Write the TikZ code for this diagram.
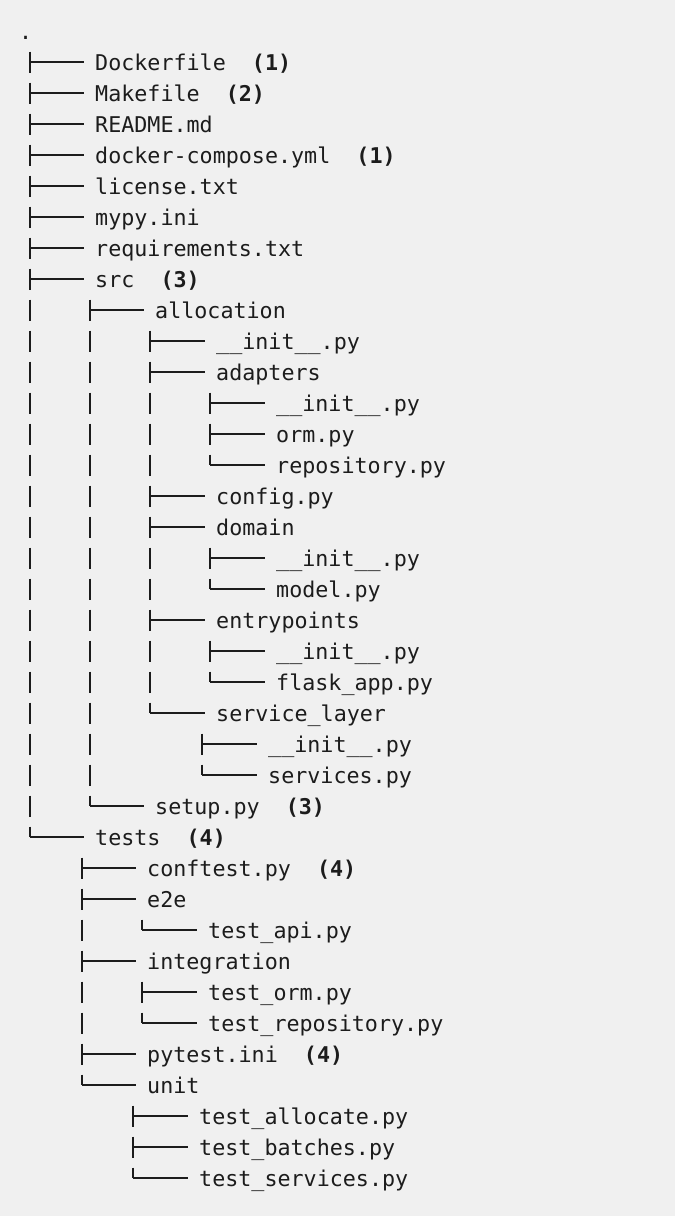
\documentclass[tikz,border=0pt]{standalone}
\usepackage{fontspec}
\setmonofont{DejaVu Sans Mono}
\definecolor{bg}{HTML}{F0F0F0}
\definecolor{ink}{HTML}{1C1C1C}
\begin{document}
\begin{tikzpicture}[x=1pt,y=-1pt,
  txt/.style={anchor=base west, inner sep=0pt, text=ink, font=\fontsize{21.7}{25}\selectfont\ttfamily},
  tree/.style={draw=ink, line width=1.4pt}]
\fill[bg] (0,0) rectangle (675,1216);
\useasboundingbox (0,0) rectangle (675,1216);
\node[txt] (root) at (19,39) {.};
% rows: index / branch x / text x / bottom of vertical (10.5 = tee, 0 = corner) / text
\foreach \i/\bx/\tx/\k/\t [evaluate=\i as \h using 62+31*\i] in {
0/30/95/10.5/{Dockerfile\ \ \textbf{(1)}},
1/30/95/10.5/{Makefile\ \ \textbf{(2)}},
2/30/95/10.5/{README.md},
3/30/95/10.5/{docker-compose.yml\ \ \textbf{(1)}},
4/30/95/10.5/{license.txt},
5/30/95/10.5/{mypy.ini},
6/30/95/10.5/{requirements.txt},
7/30/95/10.5/{src\ \ \textbf{(3)}},
8/90/155/10.5/{allocation},
9/150/216/10.5/{\_\_init\_\_.py},
10/150/216/10.5/{adapters},
11/210/276/10.5/{\_\_init\_\_.py},
12/210/276/10.5/{orm.py},
13/210/276/0/{repository.py},
14/150/216/10.5/{config.py},
15/150/216/10.5/{domain},
16/210/276/10.5/{\_\_init\_\_.py},
17/210/276/0/{model.py},
18/150/216/10.5/{entrypoints},
19/210/276/10.5/{\_\_init\_\_.py},
20/210/276/0/{flask\_app.py},
21/150/216/0/{service\_layer},
22/202/268/10.5/{\_\_init\_\_.py},
23/202/268/0/{services.py},
24/90/155/0/{setup.py\ \ \textbf{(3)}},
25/30/95/0/{tests\ \ \textbf{(4)}},
26/82/147/10.5/{conftest.py\ \ \textbf{(4)}},
27/82/147/10.5/{e2e},
28/142/208/0/{test\_api.py},
29/82/147/10.5/{integration},
30/142/208/10.5/{test\_orm.py},
31/142/208/0/{test\_repository.py},
32/82/147/10.5/{pytest.ini\ \ \textbf{(4)}},
33/82/147/0/{unit},
34/133/199/10.5/{test\_allocate.py},
35/133/199/10.5/{test\_batches.py},
36/133/199/0/{test\_services.py}
}{
  \node[txt] (n\i) at (\tx,\h+8) {\t};
  \coordinate (b\i) at (\bx,\h);
  \draw[tree] (\bx,\h-10.5) -- (\bx,\h+\k);
  \draw[tree, shorten >=11.5pt] (b\i) -- (b\i -| n\i.west);
}
% continuation bars
\foreach \x/\i in {30/8,30/9,30/10,30/11,30/12,30/13,30/14,30/15,30/16,30/17,30/18,30/19,30/20,30/21,30/22,30/23,30/24,
  90/9,90/10,90/11,90/12,90/13,90/14,90/15,90/16,90/17,90/18,90/19,90/20,90/21,90/22,90/23,
  150/11,150/12,150/13,150/16,150/17,150/19,150/20,
  82/28,82/30,82/31}{
  \draw[tree] (\x,62+31*\i-10.5) -- (\x,62+31*\i+10.5);
}
\end{tikzpicture}
\end{document}
